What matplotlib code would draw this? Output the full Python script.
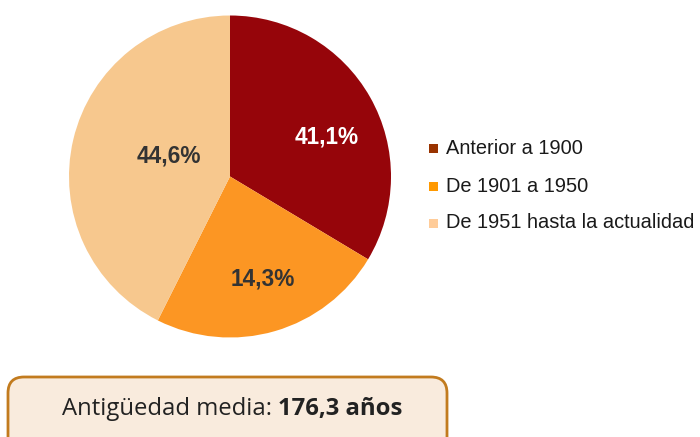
import matplotlib
matplotlib.use("Agg")
import matplotlib.pyplot as plt
from matplotlib.patches import FancyBboxPatch
import numpy as np

# ---- data ----
categories = ["Anterior a 1900", "De 1901 a 1950", "De 1951 hasta la actualidad"]
slice_shares = [33.6, 23.8, 42.6]          # drawn slice sizes
pct_labels = ["41,1%", "14,3%", "44,6%"]   # printed labels
summary_label = "Antigüedad media: "
summary_value = "176,3 años"

# ---- style ----
slice_colors = ["#96050A", "#FC9623", "#F7C88E"]
legend_colors = ["#993300", "#FF9900", "#FFCC99"]
label_colors = ["white", "#333333", "#333333"]
# label placement (angle in deg, fraction of radius)
label_layout = [(22.4, 0.65), (-72.5, 0.67), (161.6, 0.40)]

W, H = 700, 437
fig = plt.figure(figsize=(7, 4.37), dpi=100)
ax = fig.add_axes([0, 0, 1, 1])
ax.set_xlim(0, W)
ax.set_ylim(0, H)
ax.set_aspect("equal")
ax.axis("off")

cx, cy, r = 230, H - 176.5, 161
wedges, _ = ax.pie(slice_shares, colors=slice_colors, startangle=90,
                   counterclock=False, center=(cx, cy), radius=r,
                   wedgeprops=dict(linewidth=0))
ax.set_xlim(0, W)
ax.set_ylim(0, H)

for lab, col, (ang, frac) in zip(pct_labels, label_colors, label_layout):
    a = np.deg2rad(ang)
    ax.text(cx + frac * r * np.cos(a), cy + frac * r * np.sin(a), lab,
            ha="center", va="center", fontsize=16.3, fontweight="bold",
            color=col, family="Liberation Sans")

# legend
ys = [148, 186, 223]
for y, name, col in zip(ys, categories, legend_colors):
    ax.add_patch(plt.Rectangle((429, H - y - 4.5), 9, 9, color=col, lw=0))
    ax.text(446, H - y, name, ha="left", va="center", fontsize=14.4,
            color="#1a1a1a", family="Liberation Sans")

# summary box
box = FancyBboxPatch((8, H - 460), 439, 460 - 377,
                     boxstyle="round,pad=0,rounding_size=16",
                     fc="#F9EBDD", ec="#C27B1E", lw=2, clip_on=True)
ax.add_patch(box)
t1 = ax.text(62, H - 409, summary_label, ha="left", va="center", fontsize=17.2,
             color="#222222", family="Open Sans")
fig.canvas.draw()
bb = t1.get_window_extent()
ax.text(bb.x1, H - 409, summary_value, ha="left", va="center", fontsize=17.2,
        fontweight="bold", color="#222222", family="Open Sans")

fig.savefig("out.png", dpi=100)
